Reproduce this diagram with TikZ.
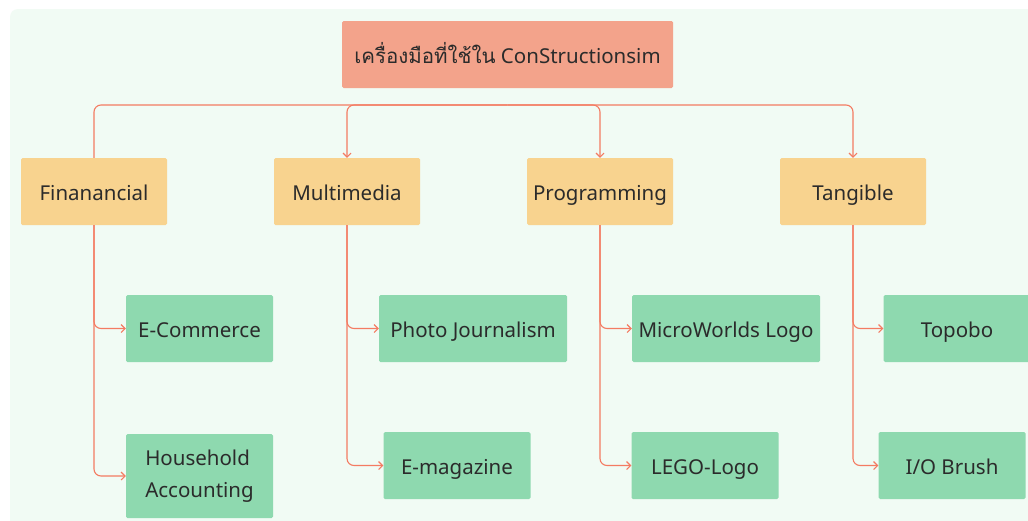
\documentclass[tikz,border=0pt]{standalone}
\usepackage{fontspec}
\setmainfont{Noto Sans}
\newfontfamily\thaifont[Script=Thai]{Loma}
\usetikzlibrary{arrows.meta, positioning}
\usepackage{xcolor}
\definecolor{bgmint}{HTML}{F1FBF4}
\definecolor{cred}{HTML}{F3A38B}
\definecolor{cyel}{HTML}{F8D38F}
\definecolor{cgrn}{HTML}{8ED9AF}
\definecolor{cline}{HTML}{F47B62}
\definecolor{ctext}{HTML}{2B2B2B}

\begin{document}
\begin{tikzpicture}[x=1pt, y=-1pt,
  topbox/.style={fill=cred, rounded corners=1.5pt, minimum width=331pt,
  minimum height=67pt, text=ctext, font=\fontsize{20.5}{25}\selectfont,
  text height=18pt, text depth=1pt},
  catbox/.style={fill=cyel, rounded corners=1.5pt, minimum width=146pt,
  minimum height=67pt, text=ctext, font=\fontsize{20.5}{25}\selectfont,
  text height=18pt, text depth=1pt},
  leafbox/.style={fill=cgrn, rounded corners=1.5pt, minimum width=147pt,
  minimum height=67pt, text=ctext, font=\fontsize{20.5}{32}\selectfont,
  text height=18pt, text depth=1pt},
  link/.style={cline, line width=1.1pt, rounded corners=7pt},
  arr/.style={link, -{Straight Barb[length=4pt, width=8pt]}}
]
\useasboundingbox (0,0) rectangle (1028,520);
\fill[white] (0,0) rectangle (1028,520);
\fill[bgmint, rounded corners=8pt] (10,9) rectangle (1040,540);

\node[topbox] (tools) at (507.5,54.5) {{\thaifont เครื่องมือที่ใช้ใน} ConStructionsim};

\node[catbox] (fin)   at (94,191.5)  {Finanancial};
\node[catbox] (multi) at (347,191.5) {Multimedia};
\node[catbox] (prog)  at (600,191.5) {Programming};
\node[catbox] (tang)  at (853,191.5) {Tangible};

\node[leafbox] (ecom)  at (199.5,328.5) {E-Commerce};
\node[leafbox, minimum width=188pt] (photo) at (473,328.5) {Photo Journalism};
\node[leafbox, minimum width=188pt] (micro) at (726,328.5) {MicroWorlds Logo};
\node[leafbox] (topo)  at (957,328.5) {Topobo};

\node[leafbox, minimum height=84pt, align=left, text height=, text depth=]
  (house) at (199.5,476) {Household\\Accounting};
\node[leafbox] (emag)  at (457,465.5) {E-magazine};
\node[leafbox] (lego)  at (705,465.5) {LEGO-Logo};
\node[leafbox] (iob)   at (952,465.5) {I/O Brush};

\coordinate (bus) at (507.5,105);
\draw[link] (bus) -| (fin.north);
\draw[arr] (bus) -| (multi.north);
\draw[arr] (bus) -| (prog.north);
\draw[arr] (bus) -| (tang.north);

\draw[arr] (fin.south) |- (ecom.west);
\draw[arr] (fin.south) |- (house.west);
\draw[arr] (multi.south) |- (photo.west);
\draw[arr] (multi.south) |- (emag.west);
\draw[arr] (prog.south) |- (micro.west);
\draw[arr] (prog.south) |- (lego.west);
\draw[arr] (tang.south) |- (topo.west);
\draw[arr] (tang.south) |- (iob.west);
\end{tikzpicture}
\end{document}
